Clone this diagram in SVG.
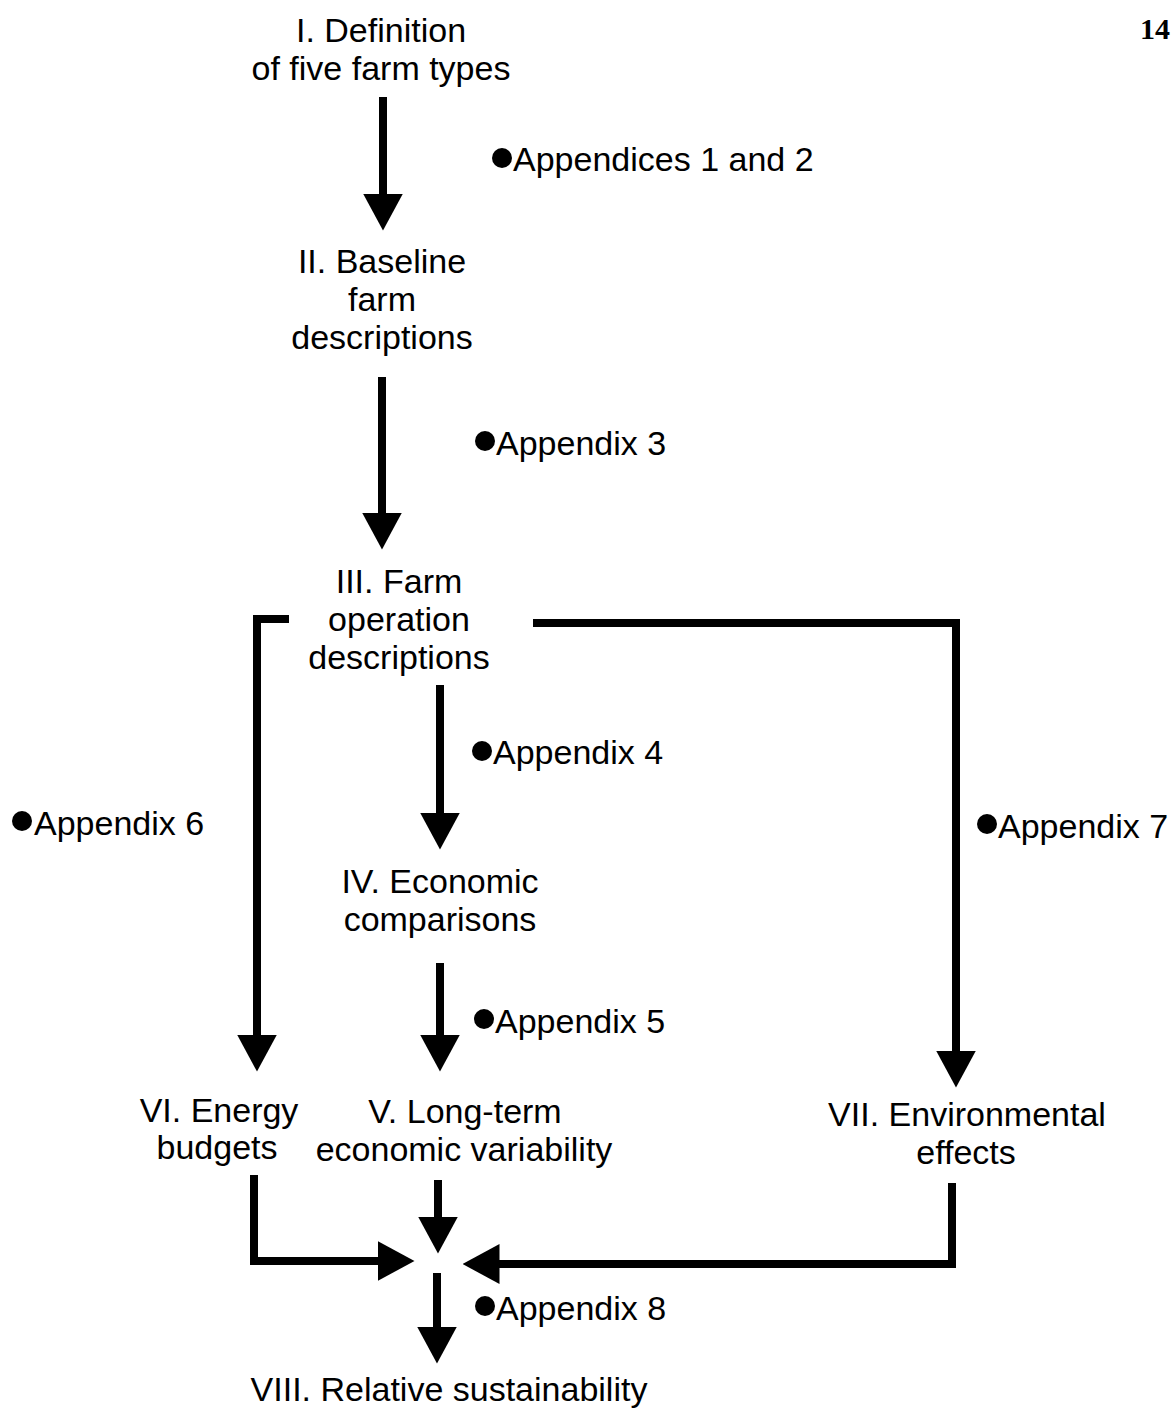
<svg xmlns="http://www.w3.org/2000/svg" width="1172" height="1409" viewBox="0 0 1172 1409">
<style>
  .t { font-family: "Liberation Sans", Arial, sans-serif; font-size: 34px; fill: #000; }
  .c { text-anchor: middle; }
  .conn { fill: none; stroke: #000; stroke-width: 8; stroke-linejoin: miter; stroke-linecap: butt; }
  .pg { font-family: "Liberation Serif", "Times New Roman", serif; font-size: 30px; font-weight: bold; fill: #000; }
</style>
<defs>
  <marker id="ah" viewBox="0 0 37 40" markerUnits="userSpaceOnUse" markerWidth="37" markerHeight="40" refX="0.5" refY="20" orient="auto">
    <path d="M0,0 L37,20 L0,40 Z" fill="#000"/>
  </marker>
</defs>
<rect width="1172" height="1409" fill="#fff"/>

<text class="pg" x="1140" y="39">14</text>

<g id="connectors">
  <path class="conn" d="M383,97 L383,194" marker-end="url(#ah)"/>
  <path class="conn" d="M382,377 L382,513" marker-end="url(#ah)"/>
  <path class="conn" d="M440,685 L440,813" marker-end="url(#ah)"/>
  <path class="conn" d="M440,963 L440,1035" marker-end="url(#ah)"/>
  <path class="conn" d="M289,619 L257,619 L257,1035" marker-end="url(#ah)"/>
  <path class="conn" d="M533,623 L956,623 L956,1051" marker-end="url(#ah)"/>
  <path class="conn" d="M254,1175 L254,1261 L378,1261" marker-end="url(#ah)"/>
  <path class="conn" d="M438,1180 L438,1217" marker-end="url(#ah)"/>
  <path class="conn" d="M952,1183 L952,1264 L499,1264" marker-end="url(#ah)"/>
  <path class="conn" d="M437,1273 L437,1327" marker-end="url(#ah)"/>
</g>

<g id="node-I">
  <text class="t c" x="381" y="42">I. Definition</text>
  <text class="t c" x="381" y="80">of five farm types</text>
</g>
<g id="label-app12">
  <circle cx="502" cy="158" r="10"/>
  <text class="t" x="513" y="171">Appendices 1 and 2</text>
</g>
<g id="node-II">
  <text class="t c" x="382" y="273">II. Baseline</text>
  <text class="t c" x="382" y="311">farm</text>
  <text class="t c" x="382" y="349">descriptions</text>
</g>
<g id="label-app3">
  <circle cx="485" cy="441" r="10"/>
  <text class="t" x="496" y="455">Appendix 3</text>
</g>
<g id="node-III">
  <text class="t c" x="399" y="593">III. Farm</text>
  <text class="t c" x="399" y="631">operation</text>
  <text class="t c" x="399" y="669">descriptions</text>
</g>
<g id="label-app4">
  <circle cx="482" cy="751" r="10"/>
  <text class="t" x="493" y="764">Appendix 4</text>
</g>
<g id="label-app6">
  <circle cx="22" cy="821" r="10"/>
  <text class="t" x="34" y="835">Appendix 6</text>
</g>
<g id="label-app7">
  <circle cx="987" cy="824" r="10"/>
  <text class="t" x="998" y="838">Appendix 7</text>
</g>
<g id="node-IV">
  <text class="t c" x="440" y="893">IV. Economic</text>
  <text class="t c" x="440" y="931">comparisons</text>
</g>
<g id="label-app5">
  <circle cx="484" cy="1019" r="10"/>
  <text class="t" x="495" y="1033">Appendix 5</text>
</g>
<g id="node-VI">
  <text class="t c" x="219" y="1122">VI. Energy</text>
  <text class="t c" x="217" y="1159">budgets</text>
</g>
<g id="node-V">
  <text class="t c" x="465" y="1123">V. Long-term</text>
  <text class="t c" x="464" y="1161">economic variability</text>
</g>
<g id="node-VII">
  <text class="t c" x="967" y="1126">VII. Environmental</text>
  <text class="t c" x="966" y="1164">effects</text>
</g>
<g id="label-app8">
  <circle cx="485" cy="1306" r="10"/>
  <text class="t" x="496" y="1320">Appendix 8</text>
</g>
<g id="node-VIII">
  <text class="t c" x="449" y="1401">VIII. Relative sustainability</text>
</g>
</svg>
